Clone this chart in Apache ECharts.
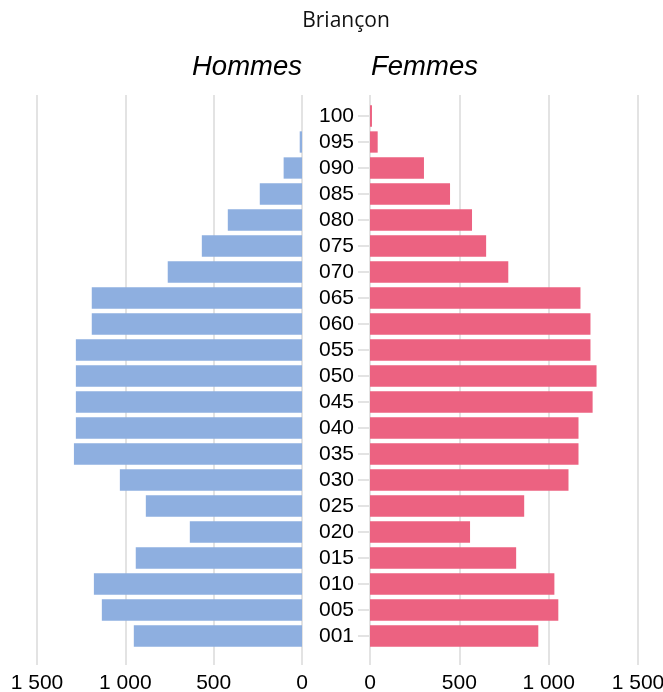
<!DOCTYPE html>
<html>
<head>
<meta charset="utf-8">
<script src="https://cdn.jsdelivr.net/npm/echarts@6/dist/echarts.min.js"></script>
<style>
  html, body { margin: 0; padding: 0; background: #fff; }
  #chart { width: 663px; height: 692px; }
</style>
</head>
<body>
<div id="chart"></div>
<script>
// tranches d'âge, de bas en haut
const ageGroups = ['001', '005', '010', '015', '020', '025', '030', '035', '040', '045',
  '050', '055', '060', '065', '070', '075', '080', '085', '090', '095', '100'];

// effectifs
const hommes = [952, 1133, 1178, 941, 635, 884, 1031, 1291, 1280, 1280,
  1280, 1280, 1190, 1190, 760, 567, 420, 239, 104, 13, 0];
const femmes = [942, 1054, 1032, 818, 560, 863, 1111, 1167, 1167, 1246,
  1268, 1234, 1234, 1178, 774, 650, 571, 448, 302, 43, 11];

const axisTicks = [0, 500, 1000, 1500];

const chart = echarts.init(document.getElementById('chart'));

const fmt = v => String(v).replace(/\B(?=(\d{3})+(?!\d))/g, ' ');
const gridColor = '#e3e3e3';
const labelFont = { fontFamily: 'Liberation Sans', fontSize: 21, color: '#000' };

const option = {
  animation: false,
  graphic: [
    { type: 'text', x: 346, y: 21, style: { text: 'Briançon', fontFamily: 'Open Sans', fontSize: 21, fill: '#111', textAlign: 'center', textVerticalAlign: 'middle' } },
    { type: 'text', x: 302, y: 67, style: { text: 'Hommes', fontFamily: 'Liberation Sans', fontStyle: 'italic', fontSize: 27.5, fill: '#000', textAlign: 'right', textVerticalAlign: 'middle' } },
    { type: 'text', x: 371, y: 67, style: { text: 'Femmes', fontFamily: 'Liberation Sans', fontStyle: 'italic', fontSize: 27.5, fill: '#000', textAlign: 'left', textVerticalAlign: 'middle' } }
  ],
  grid: [
    // grilles pour les lignes verticales (plus hautes que les barres)
    { left: 37, width: 265, top: 95, height: 570, outerBoundsMode: 'none' },
    { left: 370, width: 268, top: 95, height: 570, outerBoundsMode: 'none' },
    // grilles pour les barres
    { left: 37, width: 265, top: 103, height: 546, outerBoundsMode: 'none' },
    { left: 370, width: 268, top: 103, height: 546, outerBoundsMode: 'none' }
  ],
  xAxis: [0, 1, 2, 3].map(i => ({
    type: 'value',
    gridIndex: i,
    inverse: i % 2 === 0,
    min: 0,
    max: axisTicks[axisTicks.length - 1],
    interval: 500,
    axisLine: { show: false },
    axisTick: { show: false },
    splitLine: { show: i < 2, lineStyle: { color: gridColor, width: 2 } },
    axisLabel: i < 2 ? Object.assign({ show: true, margin: 8, formatter: fmt }, labelFont) : { show: false }
  })),
  yAxis: [
    { type: 'value', gridIndex: 0, show: false, min: 0, max: 1 },
    { type: 'value', gridIndex: 1, show: false, min: 0, max: 1 },
    { type: 'category', gridIndex: 2, data: ageGroups, show: false },
    {
      type: 'category',
      gridIndex: 3,
      data: ageGroups,
      position: 'left',
      axisLine: { show: false },
      axisTick: { show: true, alignWithLabel: true, interval: 0, length: 12, lineStyle: { color: gridColor, width: 2 } },
      axisLabel: Object.assign({ margin: 16, interval: 0, padding: [4, 0, 0, 0] }, labelFont)
    }
  ],
  series: [
    {
      name: 'Hommes',
      type: 'bar',
      xAxisIndex: 2,
      yAxisIndex: 2,
      data: hommes,
      barCategoryGap: '18%',
      itemStyle: { color: '#8eafe0' }
    },
    {
      name: 'Femmes',
      type: 'bar',
      xAxisIndex: 3,
      yAxisIndex: 3,
      data: femmes,
      barCategoryGap: '18%',
      itemStyle: { color: '#ec6281' }
    }
  ]
};

chart.setOption(option);
</script>
</body>
</html>
